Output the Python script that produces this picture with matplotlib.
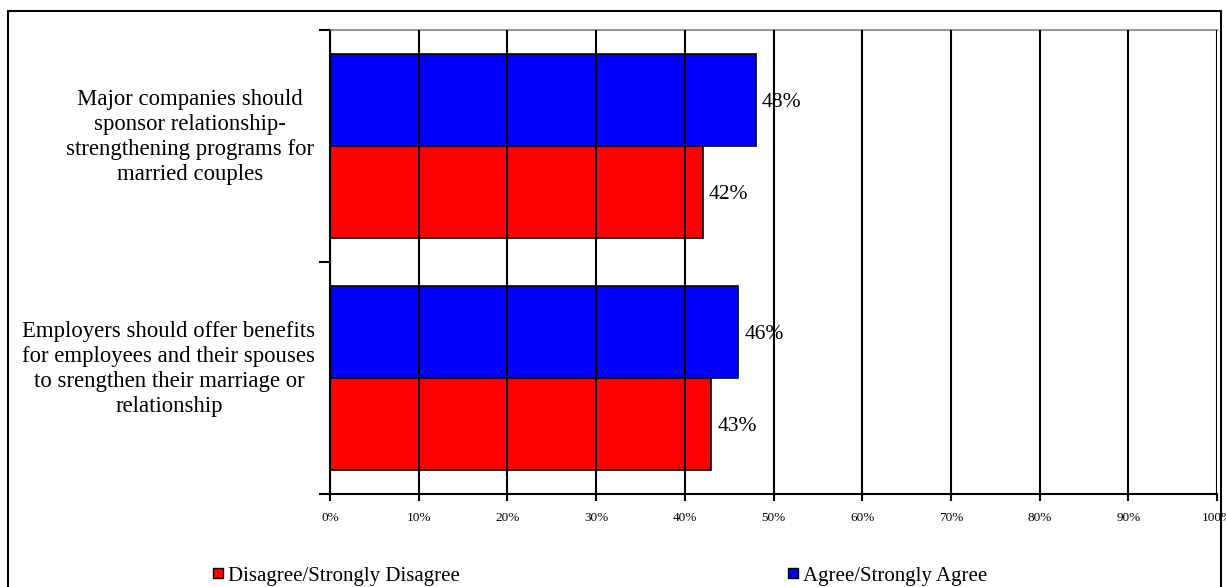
import matplotlib
matplotlib.use('Agg')
import matplotlib.pyplot as plt
import numpy as np
from matplotlib.patches import Rectangle

plt.rcParams['font.family'] = ['Liberation Serif', 'DejaVu Serif']

categories = ['Employers should offer benefits\nfor employees and their spouses\nto srengthen their marriage or\nrelationship',
              'Major companies should\nsponsor relationship-\nstrengthening programs for\nmarried couples']
agree = [46, 48]
disagree = [43, 42]
series_names = ['Disagree/Strongly Disagree', 'Agree/Strongly Agree']
ticks = np.arange(0, 101, 10)
tick_labels = ['%d%%' % t for t in ticks]

fig = plt.figure(figsize=(12.26, 5.87), dpi=100)
ax = fig.add_axes([330/1226, 1 - 494/587, 887/1226, 464/587])

pos = np.arange(len(categories)) + 0.5
h = 0.397
ax.barh(pos + h/2, agree, height=h, color='#0000ff', edgecolor='black', linewidth=1.2, zorder=1)
ax.barh(pos - h/2, disagree, height=h, color='#ff0000', edgecolor='black', linewidth=1.2, zorder=1)

for p, a, d in zip(pos, agree, disagree):
    ax.text(a + 0.7, p + h/2, '%d%%' % a, va='center_baseline', ha='left', fontsize=15.5, zorder=2)
    ax.text(d + 0.7, p - h/2, '%d%%' % d, va='center_baseline', ha='left', fontsize=15.5, zorder=2)

ax.set_xlim(0, 100)
ax.set_ylim(0, 2)
ax.set_xticks(ticks)
ax.set_xticklabels(tick_labels, fontsize=9.5)
ax.set_yticks([0, 1, 2])
ax.set_yticklabels([])
ax.tick_params(axis='y', length=8, width=1.5, direction='out')
ax.tick_params(axis='x', length=5, width=1.5, direction='out', pad=8)
ax.xaxis.grid(True, color='black', linewidth=1.5)
ax.set_axisbelow(False)
ax.spines['top'].set_color('#999999')
ax.spines['top'].set_linewidth(1.5)
ax.spines['right'].set_visible(False)
ax.spines['left'].set_linewidth(1.5)
ax.spines['bottom'].set_linewidth(1.5)

label_x = [169, 190]
for p, c, lx in zip(pos, categories, label_x):
    yc = ax.transData.transform((0, p))[1] + 9
    fig.text(lx/1226, yc / fig.bbox.height, c,
             ha='center', va='center', fontsize=16.4, linespacing=1.25)

# legend
leg_y = 1 - 573/587
for x0, col, name in [(213, '#ff0000', series_names[0]), (788, '#0000ff', series_names[1])]:
    fig.patches.append(Rectangle((x0/1226, leg_y - 5/587), 10/1226, 10/587,
                                 transform=fig.transFigure, facecolor=col,
                                 edgecolor='black', linewidth=1))
    fig.text((x0 + 15)/1226, leg_y - 3/587, name, ha='left', va='center', fontsize=15)

# outer frame
fig.patches.append(Rectangle((8/1226, -0.05), 1213/1226, 1.05 - 11/587,
                             transform=fig.transFigure, fill=False,
                             edgecolor='black', linewidth=1.5))

plt.savefig('out.png', dpi=100)
